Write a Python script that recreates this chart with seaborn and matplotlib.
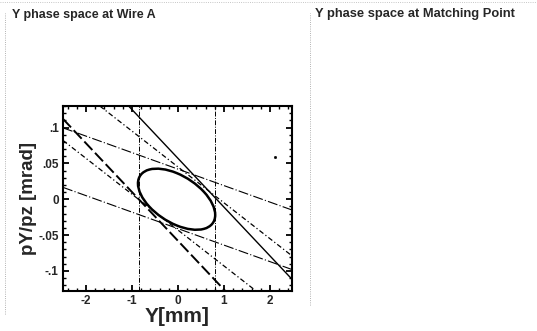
import numpy as np
import matplotlib
matplotlib.use("Agg")
import matplotlib.pyplot as plt
from matplotlib.patches import Ellipse
from matplotlib.ticker import MultipleLocator
import seaborn as sns

# Phase-space ellipse at wire A (centre, full axes, tilt in data units)
ellipse_center = (-0.03, 0.0)
ellipse_width = 1.68
ellipse_height = 0.073
ellipse_angle = -1.5

# Wire constraint lines: slope and y-intercept of each line
line_slopes = [-0.068, -0.068, -0.023, -0.023, -0.050, -0.050]
line_intercepts = [-0.058, 0.057, 0.042, -0.041, -0.043, 0.045]
line_styles = [(0, (6, 2)), "-", (0, (9, 2, 1, 2)), (0, (9, 2, 1, 2)),
               (0, (4, 2, 1, 2)), (0, (4, 2, 1, 2))]
line_widths = [1.4, 1.0, 0.8, 0.8, 0.9, 0.9]

# Wire A beam size limits
wire_limits = [-0.84, 0.81]

# stray point
dot_x = [2.12]
dot_y = [0.059]

x_ticks = [-2, -1, 0, 1, 2]
y_ticks = [-0.1, -0.05, 0, 0.05, 0.1]
y_tick_labels = ["-.1", "-.05", "0", ".05", ".1"]

sns.set_style("ticks")
plt.rcParams['font.family'] = ['Liberation Sans', 'DejaVu Sans']

fig = plt.figure(figsize=(5.37, 3.31), dpi=100)
ax = fig.add_axes([0.1173, 0.1208, 0.4265, 0.559])

for m, b, ls, lw in zip(line_slopes, line_intercepts, line_styles, line_widths):
    ax.axline((0, b), slope=m, color="black", linestyle=ls, linewidth=lw)

for xv in wire_limits:
    ax.axvline(xv, color="black", linestyle=(0, (5, 1.5, 1, 1.5)), linewidth=0.7)

ax.add_patch(Ellipse(ellipse_center, ellipse_width, ellipse_height, angle=ellipse_angle,
                     fill=False, edgecolor="black", linewidth=1.8))

sns.scatterplot(x=dot_x, y=dot_y, ax=ax, color="black", s=4, edgecolor=None)

ax.set_xlim(-2.5, 2.48)
ax.set_ylim(-0.128, 0.13)
ax.set_xticks(x_ticks)
ax.set_xticklabels([str(t) for t in x_ticks])
ax.set_yticks(y_ticks)
ax.set_yticklabels(y_tick_labels)
ax.xaxis.set_minor_locator(MultipleLocator(0.2))
ax.yaxis.set_minor_locator(MultipleLocator(0.01))
ax.tick_params(which="both", direction="in", top=True, right=True, color="black")
ax.tick_params(which="major", length=4, width=1.3, labelsize=8.5, pad=3)
ax.tick_params(which="minor", length=2, width=1.0)
for lab in ax.get_xticklabels() + ax.get_yticklabels():
    lab.set_fontweight("bold")
for sp in ax.spines.values():
    sp.set_linewidth(1.5)
    sp.set_color("black")

ax.set_xlabel("Y[mm]", fontsize=15, fontweight="bold", labelpad=0)
ax.set_ylabel("pY/pz [mrad]", fontsize=13.5, fontweight="bold", labelpad=1)

fig.text(0.022, 0.955, "Y phase space at Wire A", fontsize=9, fontweight="heavy",
         va="center", ha="left")
fig.text(0.587, 0.957, "Y phase space at Matching Point", fontsize=9.3, fontweight="heavy",
         va="center", ha="left")

# faint dotted panel frames from the scan
fig.add_artist(plt.Line2D([0.01, 0.01], [0.05, 0.96], transform=fig.transFigure,
                          color="0.6", linestyle=":", linewidth=0.6))
fig.add_artist(plt.Line2D([0.578, 0.578], [0.08, 0.96], transform=fig.transFigure,
                          color="0.6", linestyle=":", linewidth=0.6))
fig.add_artist(plt.Line2D([0.0, 1.0], [0.993, 0.993], transform=fig.transFigure,
                          color="0.7", linestyle=":", linewidth=0.6))

fig.savefig("out.png", dpi=100)
